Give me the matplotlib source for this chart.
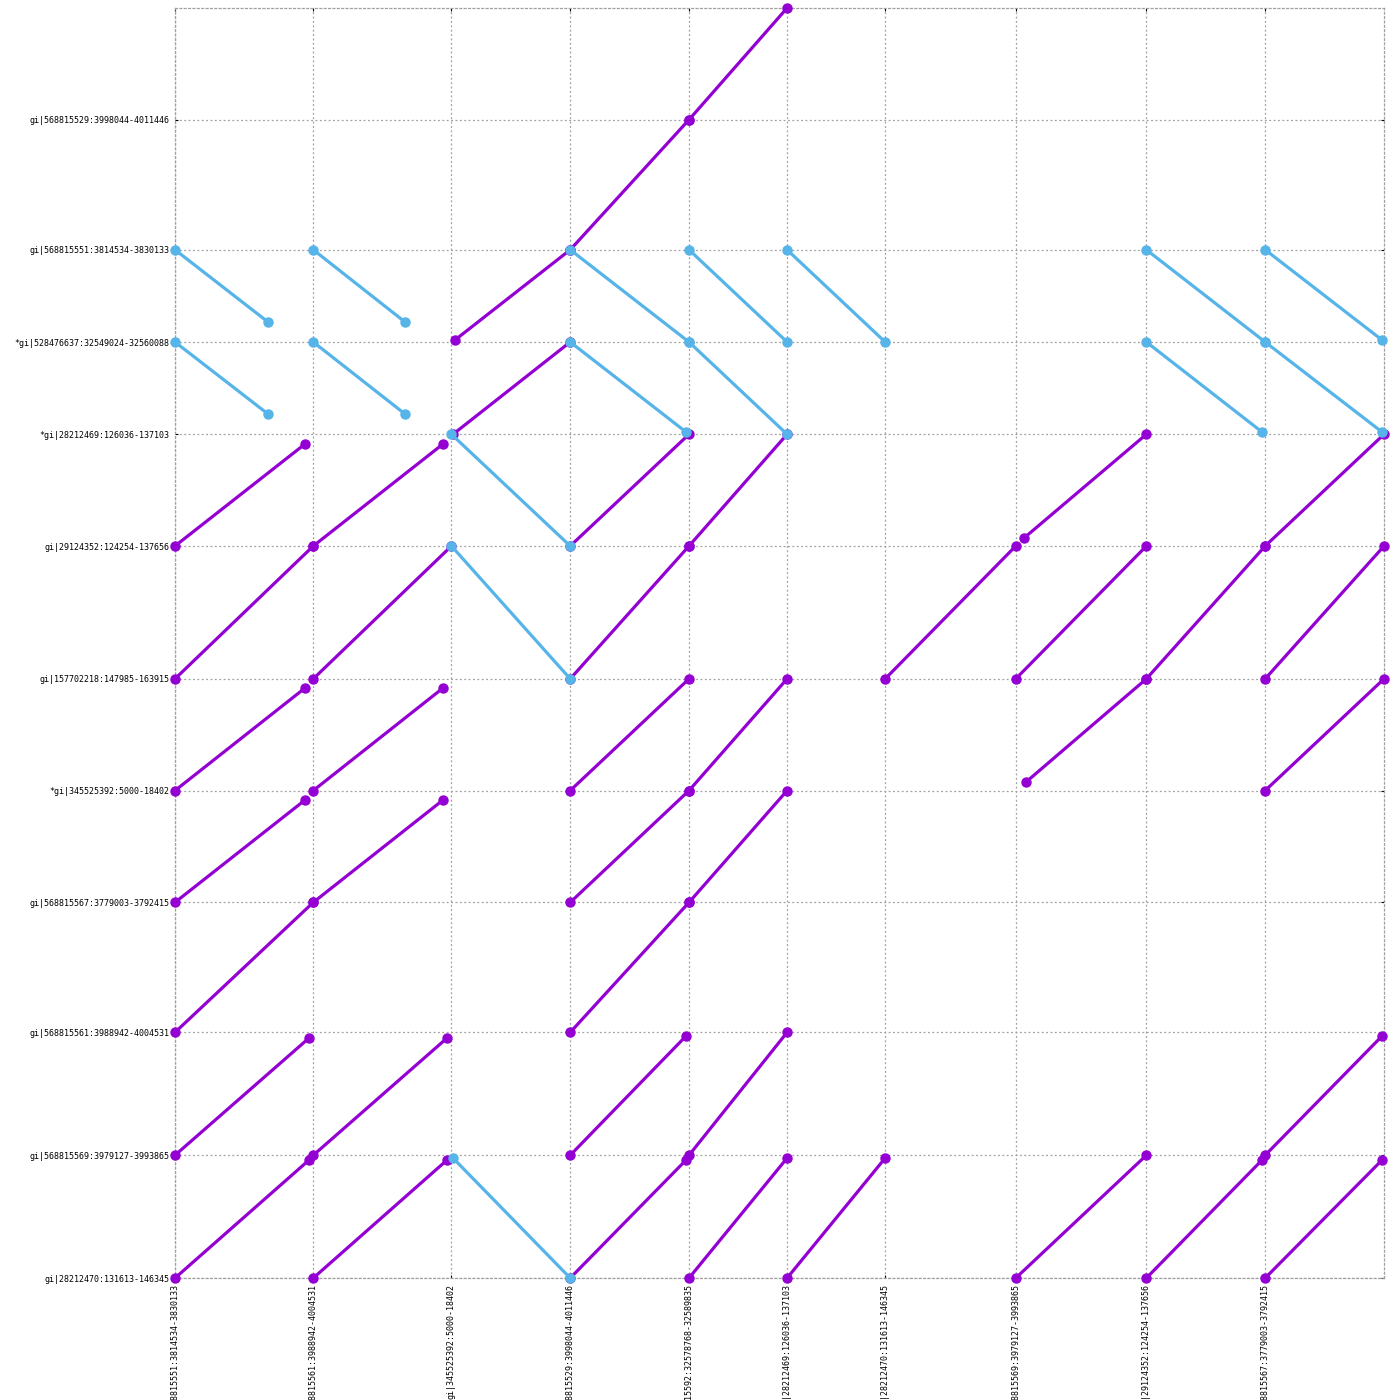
import numpy as np
import matplotlib
matplotlib.use('Agg')
import matplotlib.pyplot as plt

# reference (x) and query (y) sequences, in plot order
x_labels = ['gi|568815551:3814534-3830133', 'gi|568815561:3988942-4004531',
            'gi|345525392:5000-18402', 'gi|568815529:3998044-4011446',
            'gi|528415592:32578768-32589835', 'gi|28212469:126036-137103',
            'gi|28212470:131613-146345', 'gi|568815569:3979127-3993865',
            'gi|29124352:124254-137656', 'gi|568815567:3779003-3792415']
x_lengths = [15600, 15590, 13402, 13402, 11067, 11067, 14732, 14738, 13402, 13412]

y_labels = ['gi|28212470:131613-146345', 'gi|568815569:3979127-3993865',
            'gi|568815561:3988942-4004531', 'gi|568815567:3779003-3792415',
            '*gi|345525392:5000-18402', 'gi|157702218:147985-163915',
            'gi|29124352:124254-137656', '*gi|28212469:126036-137103',
            '*gi|528476637:32549024-32560088', 'gi|568815551:3814534-3830133',
            'gi|568815529:3998044-4011446']
y_lengths = [14732, 14738, 15589, 13412, 13402, 15930, 13402, 11067, 11064, 15599, 13402]

# matches (x1, y1, x2, y2) in concatenated coordinates
fwd_segments = [
    (0, 87803, 14668, 100038), (0, 71873, 15600, 87803), (0, 58471, 14668, 70771),
    (0, 45059, 14668, 57336), (0, 29470, 15600, 45059), (0, 14732, 15119, 28788),
    (0, 0, 15119, 14154),
    (15600, 87803, 30238, 100038), (15600, 71873, 31190, 87803), (15600, 58471, 30238, 70771),
    (15600, 45059, 30238, 57336), (15600, 14732, 30690, 28788), (15600, 0, 30690, 14154),
    (31592, 112513, 44592, 123336), (31367, 101205, 44592, 112272),
    (44592, 123336, 57994, 138935), (44592, 87803, 57994, 101205), (44592, 71873, 57994, 87803),
    (44592, 58471, 57994, 71873), (44592, 45059, 57994, 58471), (44592, 29470, 57994, 45059),
    (44592, 14732, 57656, 29028), (44592, 0, 57656, 14154),
    (57994, 138935, 69061, 152337), (57994, 87803, 69061, 101205), (57994, 58471, 69061, 71873),
    (57994, 45059, 69061, 58471), (57994, 14732, 69061, 29470), (57994, 0, 69061, 14394),
    (69061, 0, 80128, 14394),
    (80128, 71873, 94860, 87803),
    (95793, 88763, 109598, 101205), (94860, 71873, 109598, 87803),
    (96018, 59495, 109598, 71873), (94860, 0, 109598, 14732),
    (109598, 71873, 123000, 87803), (109598, 0, 122646, 14154),
    (123000, 87803, 136412, 101205), (123000, 71873, 136412, 87803),
    (123000, 58471, 136412, 71873), (123000, 14732, 136186, 29028),
    (123000, 0, 136186, 14154),
]
rev_segments = [
    (0, 123336, 10493, 114672), (0, 112272, 10493, 103637),
    (15600, 123336, 25951, 114672), (15600, 112272, 25951, 103637),
    (31190, 101205, 44592, 87803), (31190, 87803, 44592, 71873), (31367, 14394, 44592, 0),
    (44592, 123336, 57994, 112272), (44592, 112272, 57656, 101478),
    (57994, 123336, 69061, 112272), (57994, 112272, 69061, 101205),
    (69061, 123336, 80128, 112272),
    (109598, 123336, 123000, 112272), (109598, 112272, 122646, 101478),
    (123000, 123336, 136186, 112513), (123000, 112272, 136186, 101478),
]

x_starts = np.concatenate([[0], np.cumsum(x_lengths)])
y_starts = np.concatenate([[0], np.cumsum(y_lengths)])

fig = plt.figure(figsize=(14, 14), dpi=100)
ax = fig.add_axes([0.125, 0.0871, 0.8636, 0.9072])

for segs, col in [(fwd_segments, '#9400D3'), (rev_segments, '#56B4E9')]:
    for x1, y1, x2, y2 in segs:
        ax.plot([x1, x2], [y1, y2], '-o', color=col, lw=2.3, ms=6.5,
                clip_on=False, zorder=3)

ax.set_xlim(0, x_starts[-1])
ax.set_ylim(0, y_starts[-1])
ax.set_xticks(x_starts[:-1])
ax.set_xticklabels(x_labels, rotation=90, va='top', ha='center',
                   family='DejaVu Sans Mono', fontsize=6)
ax.set_yticks(y_starts[:-1])
ax.set_yticklabels(y_labels, family='DejaVu Sans Mono', fontsize=6)
ax.tick_params(direction='in', length=2, width=0.8, color='k', top=True, right=True,
               pad=4)
ax.grid(True, color='#a0a0a0', linestyle=(0, (1.5, 2)), linewidth=0.9)
for s in ax.spines.values():
    s.set_color('#a0a0a0')
    s.set_linestyle((0, (1.5, 2)))
    s.set_linewidth(0.9)

fig.savefig('out.png', dpi=100)
